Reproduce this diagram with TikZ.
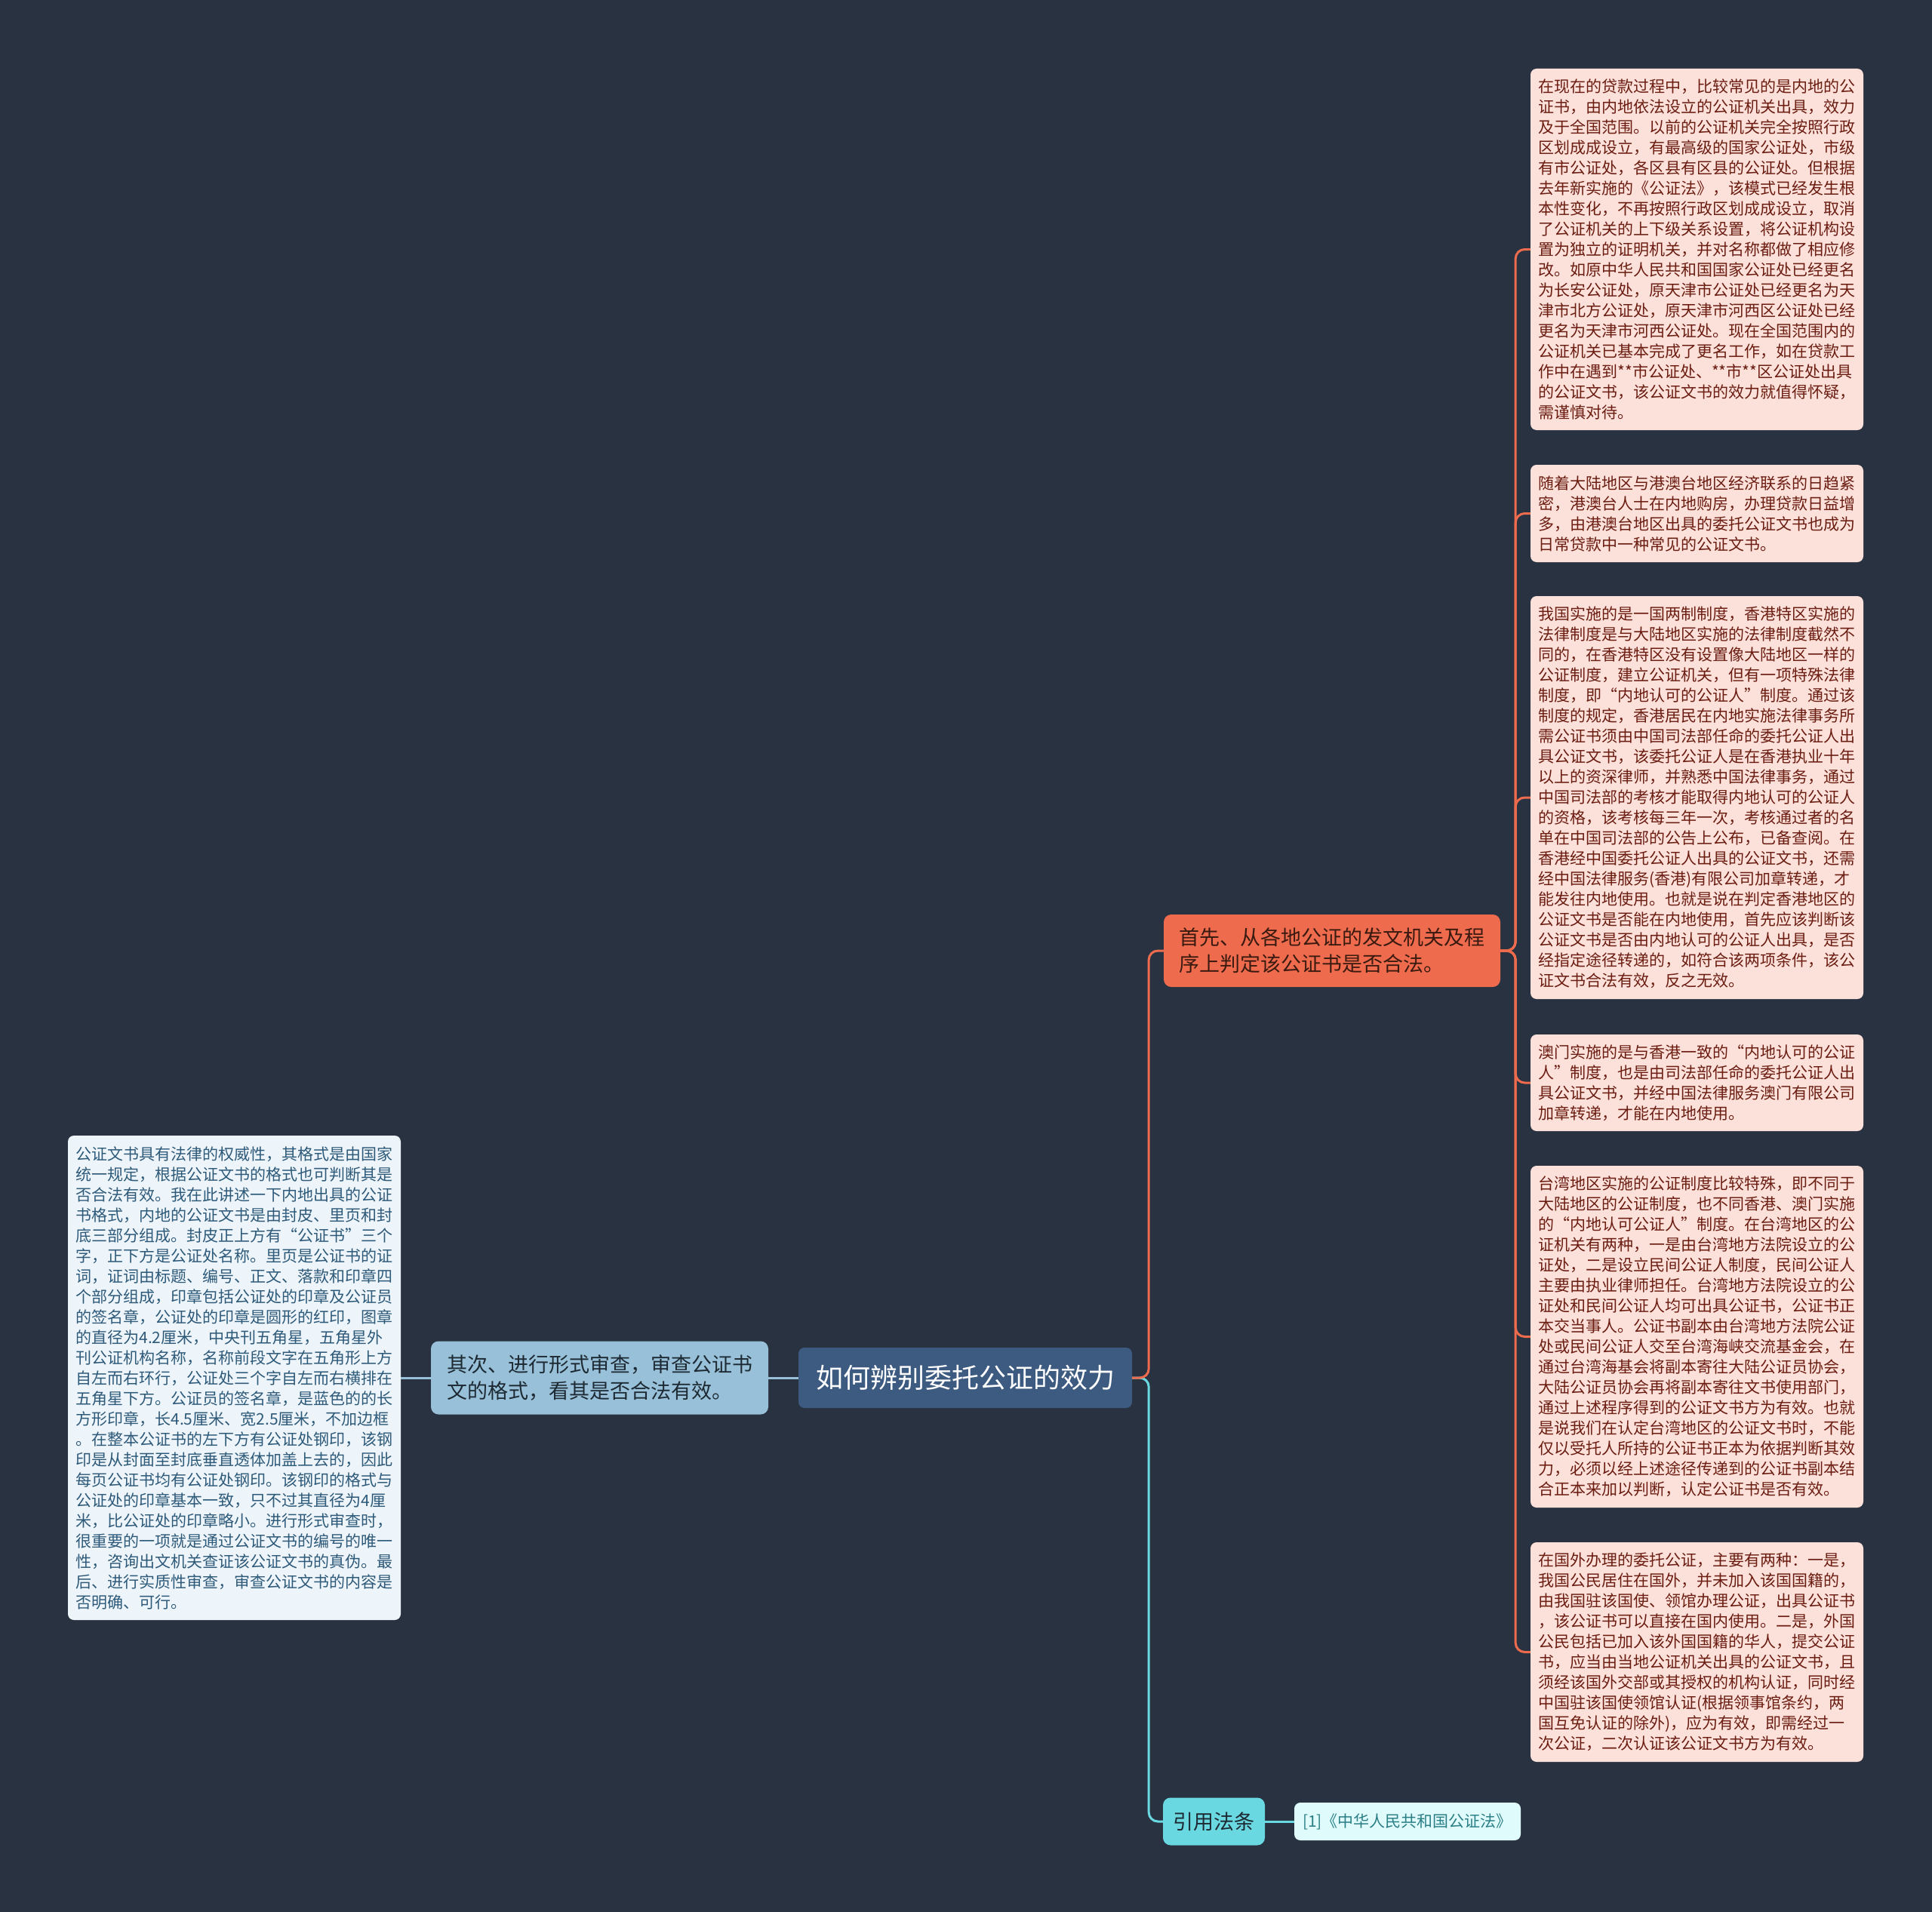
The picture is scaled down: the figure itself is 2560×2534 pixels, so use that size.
\documentclass[tikz,border=0pt]{standalone}
\usepackage{fontspec}
\setmainfont{Noto Sans CJK SC}
\definecolor{bgc}{HTML}{293241}
\definecolor{rootc}{HTML}{3D5A80}
\definecolor{bluec}{HTML}{98C1D9}
\definecolor{orangec}{HTML}{EE6C4D}
\definecolor{cyanc}{HTML}{6AD8E1}
\definecolor{citec}{HTML}{E0FBFC}
\definecolor{pinkc}{HTML}{FCE1DA}
\definecolor{pinktext}{HTML}{6B1D12}
\definecolor{paleblue}{HTML}{EEF5FA}
\definecolor{paletext}{HTML}{2E5A7A}
\definecolor{darktext}{HTML}{1E2A33}
\definecolor{brtext}{HTML}{3A1A10}
\definecolor{citetext}{HTML}{2A7F86}
\tikzset{
  leafr/.style={fill=pinkc, text=pinktext, rounded corners=8pt, align=left, inner xsep=10pt, inner ysep=8pt, minimum width=441pt, font=\fontsize{21}{27}\selectfont},
  leafl/.style={fill=paleblue, text=paletext, rounded corners=8pt, align=left, inner xsep=10pt, inner ysep=8pt, minimum width=441pt, font=\fontsize{21}{27}\selectfont},
  rootbox/.style={fill=rootc, text=white, rounded corners=8pt, minimum width=442pt, minimum height=80pt, font=\fontsize{36}{40}\selectfont},
  firstbox/.style={fill=orangec, text=brtext, rounded corners=10pt, align=left, minimum width=446pt, minimum height=96pt, font=\fontsize{27}{35}\selectfont},
  secondbox/.style={fill=bluec, text=darktext, rounded corners=10pt, align=left, minimum width=447pt, minimum height=97pt, font=\fontsize{27}{35}\selectfont},
  citebox/.style={fill=cyanc, text=darktext, rounded corners=10pt, minimum width=135pt, minimum height=63pt, font=\fontsize{27}{30}\selectfont},
  citeleaf/.style={fill=citec, text=citetext, rounded corners=8pt, minimum width=300pt, minimum height=50pt, font=\fontsize{21}{24}\selectfont},
  oline/.style={draw=orangec, line width=3pt, rounded corners=12pt},
  bline/.style={draw=bluec, line width=3pt},
  cline/.style={draw=cyanc, line width=3pt, rounded corners=12pt},
}
\begin{document}
\begin{tikzpicture}[x=1pt,y=-1pt]
\fill[bgc] (0,0) rectangle (2560,2534);
\useasboundingbox (0,0) rectangle (2560,2534);

\node[rootbox] (root) at (1279,1826) {如何辨别委托公证的效力};
\node[firstbox] (first) at (1765,1260) {首先、从各地公证的发文机关及程\\序上判定该公证书是否合法。};
\node[secondbox] (second) at (794.5,1826) {其次、进行形式审查，审查公证书\\文的格式，看其是否合法有效。};
\node[citebox] (cite) at (1608.5,2414) {引用法条};
\node[citeleaf] (law) at (1865,2414) {[1]《中华人民共和国公证法》};

\node[leafr, minimum height=479pt] (l1) at (2248.5,330.5) {在现在的贷款过程中，比较常见的是内地的公\\
证书，由内地依法设立的公证机关出具，效力\\
及于全国范围。以前的公证机关完全按照行政\\
区划成成设立，有最高级的国家公证处，市级\\
有市公证处，各区县有区县的公证处。但根据\\
去年新实施的《公证法》，该模式已经发生根\\
本性变化，不再按照行政区划成成设立，取消\\
了公证机关的上下级关系设置，将公证机构设\\
置为独立的证明机关，并对名称都做了相应修\\
改。如原中华人民共和国国家公证处已经更名\\
为长安公证处，原天津市公证处已经更名为天\\
津市北方公证处，原天津市河西区公证处已经\\
更名为天津市河西公证处。现在全国范围内的\\
公证机关已基本完成了更名工作，如在贷款工\\
作中在遇到**市公证处、**市**区公证处出具\\
的公证文书，该公证文书的效力就值得怀疑，\\
需谨慎对待。};

\node[leafr, minimum height=129pt] (l2) at (2248.5,680.5) {随着大陆地区与港澳台地区经济联系的日趋紧\\
密，港澳台人士在内地购房，办理贷款日益增\\
多，由港澳台地区出具的委托公证文书也成为\\
日常贷款中一种常见的公证文书。};

\node[leafr, minimum height=534pt] (l3) at (2248.5,1057) {我国实施的是一国两制制度，香港特区实施的\\
法律制度是与大陆地区实施的法律制度截然不\\
同的，在香港特区没有设置像大陆地区一样的\\
公证制度，建立公证机关，但有一项特殊法律\\
制度，即“内地认可的公证人”制度。通过该\\
制度的规定，香港居民在内地实施法律事务所\\
需公证书须由中国司法部任命的委托公证人出\\
具公证文书，该委托公证人是在香港执业十年\\
以上的资深律师，并熟悉中国法律事务，通过\\
中国司法部的考核才能取得内地认可的公证人\\
的资格，该考核每三年一次，考核通过者的名\\
单在中国司法部的公告上公布，已备查阅。在\\
香港经中国委托公证人出具的公证文书，还需\\
经中国法律服务(香港)有限公司加章转递，才\\
能发往内地使用。也就是说在判定香港地区的\\
公证文书是否能在内地使用，首先应该判断该\\
公证文书是否由内地认可的公证人出具，是否\\
经指定途径转递的，如符合该两项条件，该公\\
证文书合法有效，反之无效。};

\node[leafr, minimum height=128pt] (l4) at (2248.5,1435) {澳门实施的是与香港一致的“内地认可的公证\\
人”制度，也是由司法部任命的委托公证人出\\
具公证文书，并经中国法律服务澳门有限公司\\
加章转递，才能在内地使用。};

\node[leafr, minimum height=453pt] (l5) at (2248.5,1771.5) {台湾地区实施的公证制度比较特殊，即不同于\\
大陆地区的公证制度，也不同香港、澳门实施\\
的“内地认可公证人”制度。在台湾地区的公\\
证机关有两种，一是由台湾地方法院设立的公\\
证处，二是设立民间公证人制度，民间公证人\\
主要由执业律师担任。台湾地方法院设立的公\\
证处和民间公证人均可出具公证书，公证书正\\
本交当事人。公证书副本由台湾地方法院公证\\
处或民间公证人交至台湾海峡交流基金会，在\\
通过台湾海基会将副本寄往大陆公证员协会，\\
大陆公证员协会再将副本寄往文书使用部门，\\
通过上述程序得到的公证文书方为有效。也就\\
是说我们在认定台湾地区的公证文书时，不能\\
仅以受托人所持的公证书正本为依据判断其效\\
力，必须以经上述途径传递到的公证书副本结\\
合正本来加以判断，认定公证书是否有效。};

\node[leafr, minimum height=291pt] (l6) at (2248.5,2189.5) {在国外办理的委托公证，主要有两种：一是，\\
我国公民居住在国外，并未加入该国国籍的，\\
由我国驻该国使、领馆办理公证，出具公证书\\
，该公证书可以直接在国内使用。二是，外国\\
公民包括已加入该外国国籍的华人，提交公证\\
书，应当由当地公证机关出具的公证文书，且\\
须经该国外交部或其授权的机构认证，同时经\\
中国驻该国使领馆认证(根据领事馆条约，两\\
国互免认证的除外)，应为有效，即需经过一\\
次公证，二次认证该公证文书方为有效。};

\node[leafl, minimum height=642pt] (ll) at (310.5,1826) {公证文书具有法律的权威性，其格式是由国家\\
统一规定，根据公证文书的格式也可判断其是\\
否合法有效。我在此讲述一下内地出具的公证\\
书格式，内地的公证文书是由封皮、里页和封\\
底三部分组成。封皮正上方有“公证书”三个\\
字，正下方是公证处名称。里页是公证书的证\\
词，证词由标题、编号、正文、落款和印章四\\
个部分组成，印章包括公证处的印章及公证员\\
的签名章，公证处的印章是圆形的红印，图章\\
的直径为4.2厘米，中央刊五角星，五角星外\\
刊公证机构名称，名称前段文字在五角形上方\\
自左而右环行，公证处三个字自左而右横排在\\
五角星下方。公证员的签名章，是蓝色的的长\\
方形印章，长4.5厘米、宽2.5厘米，不加边框\\
。在整本公证书的左下方有公证处钢印，该钢\\
印是从封面至封底垂直透体加盖上去的，因此\\
每页公证书均有公证处钢印。该钢印的格式与\\
公证处的印章基本一致，只不过其直径为4厘\\
米，比公证处的印章略小。进行形式审查时，\\
很重要的一项就是通过公证文书的编号的唯一\\
性，咨询出文机关查证该公证文书的真伪。最\\
后、进行实质性审查，审查公证文书的内容是\\
否明确、可行。};

% connectors
\begin{scope}[on background layer/.style={}]
\draw[cline] (root.east) -- ++(22,0) |- (cite.west);
\draw[oline] (root.east) -- ++(22,0) |- (first.west);
\foreach \n in {l1,l2,l3,l4,l5,l6}
  \draw[oline] (first.east) -- ++(20,0) |- (\n.west);
\draw[bline] (root.west) -- (second.east);
\draw[bline] (second.west) -- (ll.east);
\draw[cline] (cite.east) -- (law.west);
\end{scope}
\end{tikzpicture}
\end{document}
